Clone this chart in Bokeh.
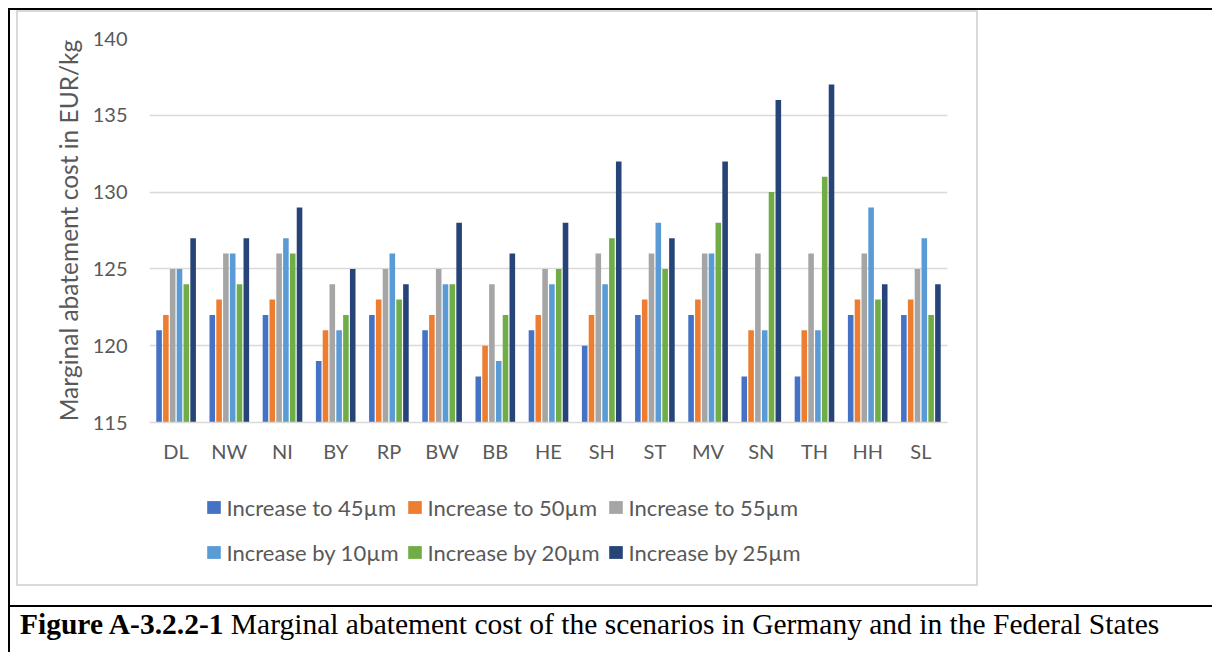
from bokeh.plotting import figure
from bokeh.layouts import column
from bokeh.models import (FactorRange, Range1d, FixedTicker, Legend, LegendItem,
                          ColumnDataSource, InlineStyleSheet, Div)
from bokeh.transform import dodge
from bokeh.embed import file_html
from bokeh.resources import INLINE

# ---------------- data ----------------
states = ["DL", "NW", "NI", "BY", "RP", "BW", "BB", "HE", "SH", "ST", "MV", "SN", "TH", "HH", "SL"]
inc_to_45 = [121, 122, 122, 119, 122, 121, 118, 121, 120, 122, 122, 118, 118, 122, 122]
inc_to_50 = [122, 123, 123, 121, 123, 122, 120, 122, 122, 123, 123, 121, 121, 123, 123]
inc_to_55 = [125, 126, 126, 124, 125, 125, 124, 125, 126, 126, 126, 126, 126, 126, 125]
inc_by_10 = [125, 126, 127, 121, 126, 124, 119, 124, 124, 128, 126, 121, 121, 129, 127]
inc_by_20 = [124, 124, 126, 122, 123, 124, 122, 125, 127, 125, 128, 130, 131, 123, 122]
inc_by_25 = [127, 127, 129, 125, 124, 128, 126, 128, 132, 127, 132, 136, 137, 124, 124]
series_names = ["Increase to 45µm", "Increase to 50µm", "Increase to 55µm",
                "Increase by 10µm", "Increase by 20µm", "Increase by 25µm"]
y_ticks = [115, 120, 125, 130, 135, 140]
y_title = "Marginal abatement cost in EUR/kg"
caption_bold = "Figure A-3.2.2-1"
caption_rest = "Marginal abatement cost of the scenarios in Germany and in the Federal States"

# ---------------- styling ----------------
colors = ["#4472C4", "#ED7D31", "#A5A5A5", "#5B9BD5", "#70AD47", "#264478"]
TXT = "#595959"
GRID = "#d9d9d9"
FONT = "Lato"

W, H = 1212, 652
H1 = 475            # chart figure height
H2 = 130            # legend figure height
H3 = H - H1 - H2    # caption height

src = ColumnDataSource(dict(state=states, s0=inc_to_45, s1=inc_to_50, s2=inc_to_55,
                            s3=inc_by_10, s4=inc_by_20, s5=inc_by_25))

# table borders and chart-area border drawn as CSS backgrounds of an overlay
def seg(col, x, y, w, h):
    return (f"linear-gradient({col},{col})", f"{x}px {y}px", f"{w}px {h}px")

segs = [seg("#000", 8, 8, 1204, 2), seg("#000", 8, 8, 2, 644), seg("#000", 8, 605, 1204, 2),
        seg(GRID, 16, 10, 961, 2), seg(GRID, 16, 584, 961, 2),
        seg(GRID, 16, 10, 2, 576), seg(GRID, 976, 10, 2, 576)]
css = (":host { position: relative; } "
       ":host::after { content: ''; position: absolute; left: 0; top: 0; width: %dpx; height: %dpx; "
       "pointer-events: none; z-index: 50; background-repeat: no-repeat; "
       "background-image: %s; background-position: %s; background-size: %s; }"
       % (W, H, ", ".join(s[0] for s in segs), ", ".join(s[1] for s in segs), ", ".join(s[2] for s in segs)))

# ---------------- chart ----------------
p = figure(width=W, height=H1, x_range=FactorRange(*states), y_range=Range1d(115, 140),
           output_backend="svg", toolbar_location=None,
           min_border_left=149, min_border_right=265, min_border_top=38, min_border_bottom=H1 - 422)
p.outline_line_color = None
p.background_fill_color = "white"
p.border_fill_color = "white"

slot = 0.128
for i, c in enumerate(colors):
    p.vbar(x=dodge("state", (i - 2.5) * slot, range=p.x_range), top="s%d" % i, bottom=115,
           width=0.105, source=src, fill_color=c, line_color=None)

p.xgrid.grid_line_color = None
p.ygrid.grid_line_color = GRID
p.ygrid.grid_line_width = 1.5
p.yaxis.ticker = FixedTicker(ticks=y_ticks)
p.ygrid.ticker = FixedTicker(ticks=y_ticks)

p.yaxis.axis_line_color = None
p.yaxis.major_tick_line_color = None
p.yaxis.major_tick_out = 0
p.yaxis.minor_tick_line_color = None
p.yaxis.minor_tick_out = 0
p.yaxis.major_label_text_font = FONT
p.yaxis.major_label_text_font_size = "20px"
p.yaxis.major_label_text_color = TXT
p.yaxis.major_label_standoff = 22
p.yaxis.axis_label = y_title
p.yaxis.axis_label_text_font = FONT
p.yaxis.axis_label_text_font_style = "normal"
p.yaxis.axis_label_text_font_size = "24.5px"
p.yaxis.axis_label_text_color = TXT
p.yaxis.axis_label_standoff = 7

p.xaxis.axis_line_color = GRID
p.xaxis.axis_line_width = 1.5
p.xaxis.major_tick_line_color = None
p.xaxis.major_tick_out = 0
p.xaxis.minor_tick_line_color = None
p.xaxis.minor_tick_out = 0
p.xaxis.major_label_text_font = FONT
p.xaxis.major_label_text_font_size = "20px"
p.xaxis.major_label_text_color = TXT
p.xaxis.major_label_standoff = 16

# ---------------- legend (own strip, two rows) ----------------
lf = figure(width=W, height=H2, x_range=Range1d(0, 1), y_range=Range1d(0, 1),
            output_backend="svg", toolbar_location=None, x_axis_type=None, y_axis_type=None,
            min_border_left=149, min_border_right=265, min_border_top=0, min_border_bottom=0)
lf.outline_line_color = None
lf.xgrid.visible = False
lf.ygrid.visible = False
lf.background_fill_color = "white"
lf.border_fill_color = "white"
# zero-size swatch renderers: they only feed the legend glyphs
swatches = [lf.vbar(x=[0], top=[0], bottom=[0], width=0, fill_color=c, line_color=None) for c in colors]

for row, vy in ((0, 84.5), (1, 39.5)):
    items = [LegendItem(label=series_names[k], renderers=[swatches[k]]) for k in range(row * 3, row * 3 + 3)]
    lg = Legend(items=items, orientation="horizontal", location=(55.5, vy),
                border_line_color=None, background_fill_alpha=0, padding=0, margin=0,
                spacing=3, glyph_width=17, glyph_height=16, label_standoff=5,
                label_width=176, label_height=16,
                label_text_font=FONT, label_text_font_size="22px", label_text_color=TXT)
    lf.add_layout(lg, "center")

# ---------------- caption ----------------
cap_html = ('<div style="position:absolute; left:20px; top:5px; white-space:nowrap; '
            'font-family:\'Liberation Serif\'; font-size:29.5px; line-height:1; color:#000;">'
            '<b>%s</b> %s</div>' % (caption_bold, caption_rest))
cap = Div(text=cap_html, width=W, height=H3, margin=(0, 0, 0, 0),
          styles={"position": "relative", "background": "white", "overflow": "visible"})

layout = column(p, lf, cap, spacing=0, stylesheets=[InlineStyleSheet(css=css)])
open("out.html", "w").write(file_html(layout, INLINE))
